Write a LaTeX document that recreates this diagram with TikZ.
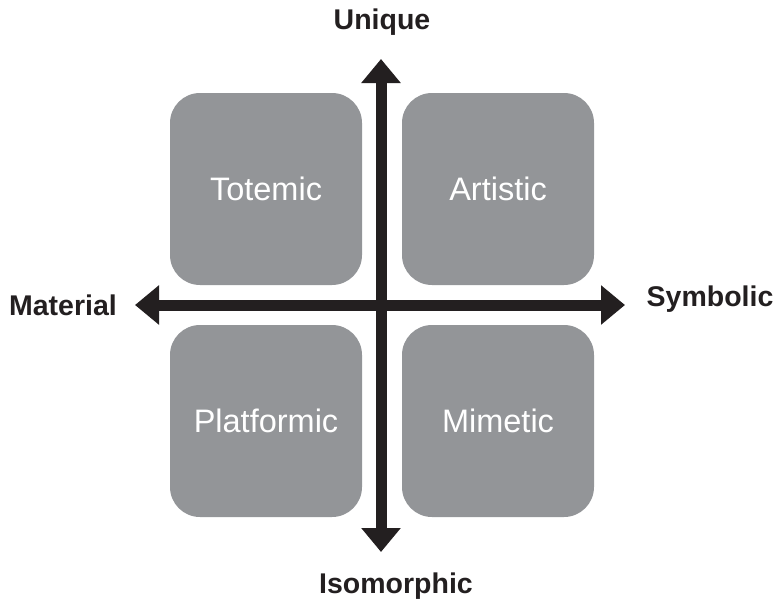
\documentclass[tikz,border=0pt]{standalone}
\usepackage{fontspec}
\setmainfont{Liberation Sans}
\usetikzlibrary{arrows.meta}
\definecolor{boxgray}{HTML}{939598}
\definecolor{axisblack}{HTML}{231F20}
\begin{document}
\begin{tikzpicture}[x=1pt,y=-1pt,
  quad/.style={fill=boxgray, rounded corners=30pt, minimum width=192pt, minimum height=192pt, inner sep=0pt, text=white, font=\fontsize{32.5}{38}\selectfont},
  axis/.style={draw=axisblack, line width=11pt, {Triangle[width=38pt,length=24pt]}-{Triangle[width=38pt,length=24pt]}},
  axlabel/.style={font=\fontsize{28.5}{34}\selectfont\bfseries, text=axisblack, inner sep=0pt}]
\useasboundingbox (0,0) rectangle (779,606);
\node[quad] (totemic) at (266,189) {Totemic};
\node[quad] (artistic) at (498,189) {Artistic};
\node[quad] (platformic) at (266,421) {Platformic};
\node[quad] (mimetic) at (498,421) {Mimetic};
\coordinate (top) at (381,59);
\coordinate (bottom) at (381,552);
\coordinate (left) at (135,305);
\coordinate (right) at (625,305);
\draw[axis] (top) -- (bottom);
\draw[axis] (left) -- (right);
\node[axlabel] (unique) at (382,22) {Unique};
\node[axlabel] (material) at (63,305) {Material};
\node[axlabel] (symbolic) at (710,299) {Symbolic};
\node[axlabel] (isomorphic) at (396,586) {Isomorphic};
\end{tikzpicture}
\end{document}
